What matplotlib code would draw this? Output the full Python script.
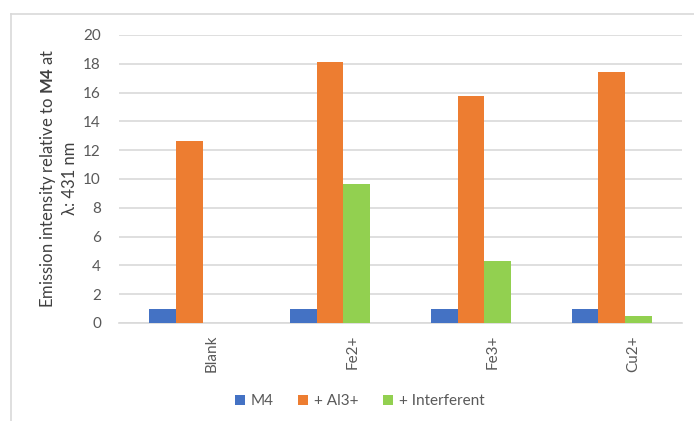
import matplotlib.pyplot as plt
import matplotlib.transforms as mtransforms
from matplotlib.lines import Line2D
from matplotlib.patches import Patch
import numpy as np

plt.rcParams['font.family'] = ['Lato', 'DejaVu Sans']
plt.rcParams['mathtext.fontset'] = 'custom'
plt.rcParams['mathtext.rm'] = 'Lato'
plt.rcParams['mathtext.bf'] = 'Lato:bold'

categories = ['Blank', 'Fe2+', 'Fe3+', 'Cu2+']
series_names = ['M4', '+ Al3+', '+ Interferent']
m4 = [1, 1, 1, 1]
al3 = [12.65, 18.15, 15.75, 17.4]
interferent = [0, 9.65, 4.3, 0.5]
y_ticks = [0, 2, 4, 6, 8, 10, 12, 14, 16, 18, 20]

colors = ['#4472C4', '#ED7D31', '#92D050']
grey_text = '#595959'
grid_col = '#D9D9D9'

fig = plt.figure(figsize=(6.94, 4.21), dpi=100)
ax = fig.add_axes([119 / 694, 1 - 323 / 421, (682 - 119) / 694, (323 - 35) / 421])

x = np.arange(len(categories))
w = 0.19
for i, (vals, col) in enumerate(zip([m4, al3, interferent], colors)):
    ax.bar(x + (i - 1) * w, vals, width=w, color=col, zorder=3)

ax.set_xlim(-0.5, len(categories) - 0.5)
ax.set_ylim(0, 20)
ax.set_yticks(y_ticks)
ax.yaxis.grid(True, color=grid_col, linewidth=1.2, zorder=0)
for s in ['top', 'right', 'left']:
    ax.spines[s].set_visible(False)
ax.spines['bottom'].set_color(grid_col)
ax.spines['bottom'].set_linewidth(1.2)
ax.tick_params(axis='both', length=0, labelsize=11, labelcolor=grey_text)
ax.tick_params(axis='y', pad=13)

# category labels, rotated and shifted right of group centre like the original
ax.set_xticks(x)
ax.set_xticklabels([])
offset = mtransforms.ScaledTranslation(22 / 100, -12 / 100, fig.dpi_scale_trans)
for xi, lab in zip(x, categories):
    ax.text(xi, 0, lab, rotation=90, ha='center', va='top', fontsize=11,
            color=grey_text, transform=ax.get_xaxis_transform() + offset)

fig.text(58 / 694, 1 - 178 / 421,
         'Emission intensity relative to $\\mathbf{M4}$ at\nλ: 431 nm',
         rotation=90, ha='center', va='center', fontsize=12, color='#404040',
         multialignment='center', linespacing=1.35)

handles = [Patch(facecolor=c, edgecolor='none') for c in colors]
fig.legend(handles, series_names, loc='center', bbox_to_anchor=(360 / 694, 1 - 401 / 421),
           ncol=3, frameon=False, fontsize=11, handlelength=0.65, handleheight=0.65,
           handletextpad=0.4, columnspacing=1.6, labelcolor=grey_text)

# outer chart frame (top and left edges)
fig.add_artist(Line2D([11 / 694, 11 / 694], [0, 1 - 14 / 421], color=grid_col, lw=1.2))
fig.add_artist(Line2D([11 / 694, 1], [1 - 14 / 421, 1 - 14 / 421], color=grid_col, lw=1.2))

fig.savefig('out.png', dpi=100)
